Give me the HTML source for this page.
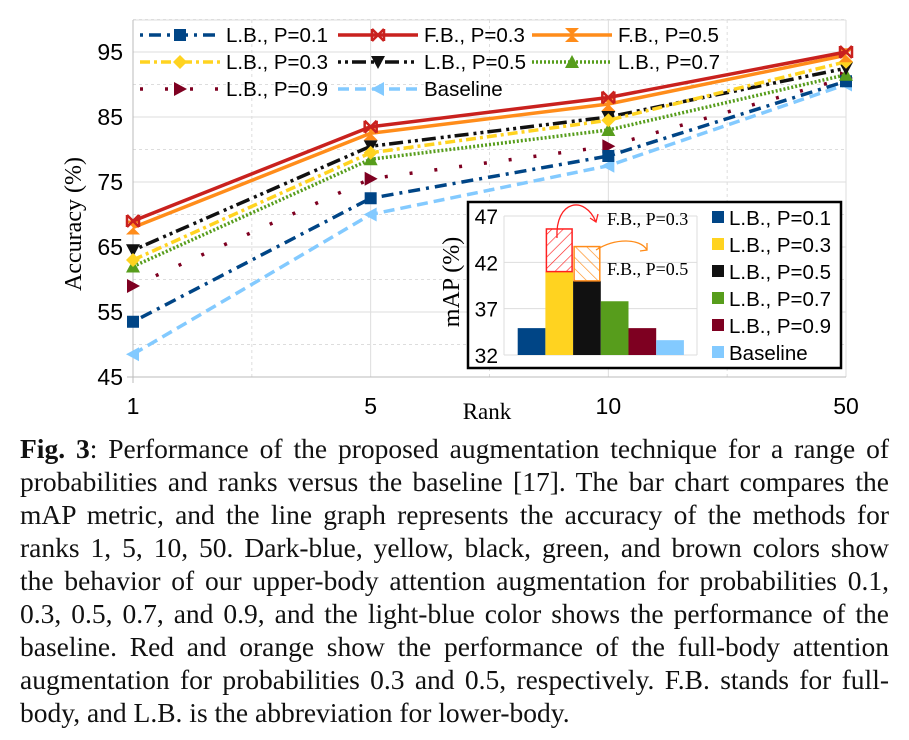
<!DOCTYPE html>
<html><head><meta charset="utf-8"><style>
html,body{margin:0;padding:0;background:#fff;width:909px;height:740px;overflow:hidden}
#cap{position:absolute;left:20px;top:432px;width:869px;font-family:"Liberation Serif",serif;font-size:27.5px;line-height:33px;color:#111}
#cap div{text-align:justify;text-align-last:justify;white-space:nowrap}
#cap div.last{text-align-last:left}
</style></head><body>
<svg id="chart" width="909" height="430" style="position:absolute;left:0;top:0" font-family="Liberation Sans, sans-serif"></svg>
<div id="cap">
<div><b>Fig. 3</b>: Performance of the proposed augmentation technique for a range of</div>
<div>probabilities and ranks versus the baseline [17]. The bar chart compares the</div>
<div>mAP metric, and the line graph represents the accuracy of the methods for</div>
<div>ranks 1, 5, 10, 50. Dark-blue, yellow, black, green, and brown colors show</div>
<div>the behavior of our upper-body attention augmentation for probabilities 0.1,</div>
<div>0.3, 0.5, 0.7, and 0.9, and the light-blue color shows the performance of the</div>
<div>baseline. Red and orange show the performance of the full-body attention</div>
<div>augmentation for probabilities 0.3 and 0.5, respectively. F.B. stands for full-</div>
<div class="last">body, and L.B. is the abbreviation for lower-body.</div>
</div>
<script>
const ranks=["1","5","10","50"];
const yTicks=[45,55,65,75,85,95];
const lb01=[53.5,72.5,79,90.5];
const fb03=[69,83.5,88,95];
const fb05=[68,82.5,87,94.5];
const lb03=[63,79.5,84.5,93.5];
const lb05=[64.5,80.5,85,92.5];
const lb07=[62,78.5,83,91.5];
const lb09=[59,75.5,80.5,91];
const base=[48.5,70,77.5,90];
const mapNames=["L.B., P=0.1","L.B., P=0.3","L.B., P=0.5","L.B., P=0.7","L.B., P=0.9","Baseline"];
const mapVals=[34.9,41,40,37.8,34.9,33.6];
const fbMap=[45.6,43.7];
const mapTicks=[32,37,42,47];

const NS="http://www.w3.org/2000/svg";
const svg=document.getElementById('chart');
function el(t,a,p){const e=document.createElementNS(NS,t);for(const k in a)e.setAttribute(k,a[k]);(p||svg).appendChild(e);return e;}
const X0=133,X1=846,Y0=377,Y1=52;
const xs=i=>X0+i*(X1-X0)/(ranks.length-1);
const ys=v=>Y0+(v-45)*(Y1-Y0)/(95-45);
for(let v=45;v<=100;v+=5){const g=el('line',{x1:X0,x2:X1,y1:ys(v),y2:ys(v),stroke:'#ddd','stroke-width':1,'stroke-dasharray':v%10==5?'none':'3,3'});}
for(let i=0;i<=6;i++){const x=X0+i*(X1-X0)/6;const g=el('line',{x1:x,x2:x,y1:20,y2:Y0,stroke:'#ddd','stroke-dasharray':i%2?'3,3':'none'});}
el('line',{x1:X0,x2:X1,y1:20,y2:20,stroke:'#ddd'});
el('line',{x1:X0,x2:X0,y1:20,y2:Y0+6,stroke:'#bbb'});
el('line',{x1:X0-6,x2:X1,y1:Y0,y2:Y0,stroke:'#bbb'});
yTicks.forEach(v=>{const t=el('text',{x:X0-10,y:ys(v)+8,'text-anchor':'end','font-size':23});t.textContent=v;});
ranks.forEach((r,i)=>{const t=el('text',{x:xs(i),y:414,'text-anchor':'middle','font-size':23});t.textContent=r;});
let t=el('text',{x:487,y:419,'text-anchor':'middle','font-size':23,'font-family':'Liberation Serif, serif'});t.textContent='Rank';
t=el('text',{transform:'translate(81,224) rotate(-90)','text-anchor':'middle','font-size':24,'font-family':'Liberation Serif, serif'});t.textContent='Accuracy (%)';

function marker(type,x,y,c,g){
 if(type=='sq')el('rect',{x:x-6,y:y-6,width:12,height:12,fill:c},g);
 else if(type=='dia')el('path',{d:`M${x},${y-7}L${x+7},${y}L${x},${y+7}L${x-7},${y}Z`,fill:c},g);
 else if(type=='dn')el('path',{d:`M${x-7},${y-6}L${x+7},${y-6}L${x},${y+7}Z`,fill:c},g);
 else if(type=='up')el('path',{d:`M${x-7},${y+6}L${x+7},${y+6}L${x},${y-7}Z`,fill:c},g);
 else if(type=='rt')el('path',{d:`M${x-6},${y-7}L${x+7},${y}L${x-6},${y+7}Z`,fill:c},g);
 else if(type=='lt')el('path',{d:`M${x+6},${y-7}L${x-7},${y}L${x+6},${y+7}Z`,fill:c},g);
 else if(type=='x'){el('path',{d:`M${x-6},${y-6}L${x+6},${y+6}M${x+6},${y-6}L${x-6},${y+6}M${x-6},${y-6}L${x-6},${y+6}M${x+6},${y-6}L${x+6},${y+6}`,stroke:c,'stroke-width':2.5,fill:'none'},g);}
 else if(type=='hg'){el('path',{d:`M${x-7},${y-7}L${x+7},${y-7}L${x-7},${y+7}L${x+7},${y+7}Z`,fill:c},g);}
}
const series=[
 {n:'L.B., P=0.1',d:lb01,c:'#004586',dash:'3,6,12,6',m:'sq',w:3.5},
 {n:'F.B., P=0.3',d:fb03,c:'#c9211e',dash:'none',m:'x',w:3.5},
 {n:'F.B., P=0.5',d:fb05,c:'#ff8c1a',dash:'none',m:'hg',w:3.5},
 {n:'L.B., P=0.3',d:lb03,c:'#ffd320',dash:'10,4,3,4',m:'dia',w:3.5},
 {n:'L.B., P=0.5',d:lb05,c:'#111',dash:'3,4,3,4,14,5',m:'dn',w:3.5},
 {n:'L.B., P=0.7',d:lb07,c:'#579d1c',dash:'2,2',m:'up',w:3.5},
 {n:'L.B., P=0.9',d:lb09,c:'#7e0021',dash:'3,22',m:'rt',w:3.5},
 {n:'Baseline',d:base,c:'#83caff',dash:'11,6',m:'lt',w:3.5}
];
const order=[6,7,0,5,4,3,2,1];
order.forEach(k=>{const s=series[k];const g=el('g',{});
 el('polyline',{points:s.d.map((v,i)=>xs(i)+','+ys(v)).join(' '),fill:'none',stroke:s.c,'stroke-width':s.w,'stroke-dasharray':s.dash},g);
 s.d.forEach((v,i)=>marker(s.m,xs(i),ys(v),s.c,g));});
const lpos=[[140,35],[338,35],[532,35],[140,62],[338,62],[532,62],[140,89],[338,89]];
series.forEach((s,i)=>{const [x,y]=lpos[i];const g=el('g',{});
 el('line',{x1:x,x2:x+80,y1:y,y2:y,stroke:s.c,'stroke-width':s.w,'stroke-dasharray':s.dash},g);marker(s.m,x+40,y,s.c,g);
 const tt=el('text',{x:x+86,y:y+7,'font-size':20.5},g);tt.textContent=s.n;});
const ig=el('g',{});
el('rect',{x:468,y:202,width:373,height:166,fill:'#fff',stroke:'#000','stroke-width':2.5},ig);
const IX0=504,IX1=697,IY0=355,IY1=216;
const iy=v=>IY0+(v-32)*(IY1-IY0)/(47-32);
const defs=el('defs',{});
[['hr','#ff2020',45],['ho','#ff8c1a',-45]].forEach(([id,c,r])=>{const p=el('pattern',{id:id,width:8,height:8,patternUnits:'userSpaceOnUse',patternTransform:`rotate(${r})`},defs);el('line',{x1:0,y1:0,x2:0,y2:8,stroke:c,'stroke-width':1.3},p);});
mapTicks.forEach(v=>{el('line',{x1:IX0,x2:IX1,y1:iy(v),y2:iy(v),stroke:'#ddd'},ig);const tx=el('text',{x:498,y:iy(v)+8,'text-anchor':'end','font-size':21},ig);tx.textContent=v;});
el('line',{x1:IX0,x2:IX0,y1:IY1,y2:IY0,stroke:'#ddd'},ig);el('line',{x1:IX1,x2:IX1,y1:IY1,y2:IY0,stroke:'#ddd'},ig);
t=el('text',{transform:'translate(459,282) rotate(-90)','text-anchor':'middle','font-size':24,'font-family':'Liberation Serif, serif'});t.textContent='mAP (%)';
const cols=['#004586','#ffd320','#111','#579d1c','#7e0021','#83caff'];
const bw=27.7,bx0=517.7;
mapVals.forEach((v,i)=>{const r=el('rect',{x:bx0+i*bw,y:iy(v),width:bw,height:IY0-iy(v),fill:cols[i]},ig);});
[[1,fbMap[0],'#ff2020','hr'],[2,fbMap[1],'#ff8c1a','ho']].forEach(([i,v,c,p])=>{const top=iy(v),bot=iy(mapVals[i]);const r=el('rect',{x:bx0+i*bw+1,y:top,width:bw-2,height:bot-top,fill:`url(#${p})`,stroke:c,'stroke-width':1.5},ig);});
el('path',{d:'M557,238 C555,200 585,195 596,222',fill:'none',stroke:'#ff2020','stroke-width':1.3},ig);
el('path',{d:'M590,218 L596,222 L598,214',fill:'none',stroke:'#ff2020','stroke-width':1.3},ig);
el('path',{d:'M596,250 C615,238 640,238 647,250',fill:'none',stroke:'#ff8c1a','stroke-width':1.3},ig);
el('path',{d:'M640,251 L647,250 L647,243',fill:'none',stroke:'#ff8c1a','stroke-width':1.3},ig);
t=el('text',{x:607,y:225,'font-size':18,'font-family':'Liberation Serif, serif'},ig);t.textContent='F.B., P=0.3';
t=el('text',{x:607,y:275,'font-size':18,'font-family':'Liberation Serif, serif'},ig);t.textContent='F.B., P=0.5';
mapNames.forEach((n,i)=>{const y=218+i*27;const g=el('g',{},ig);el('rect',{x:712,y:y-7,width:12,height:12,fill:cols[i]},g);const tx=el('text',{x:729,y:y+7,'font-size':20.5},g);tx.textContent=n;});
</script>
</body></html>
